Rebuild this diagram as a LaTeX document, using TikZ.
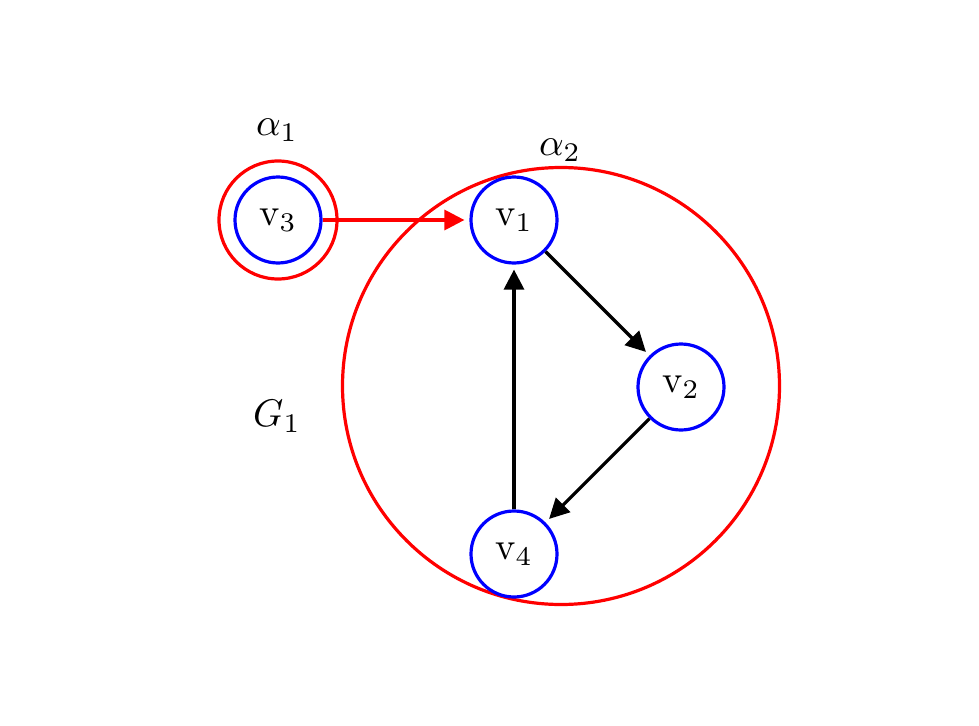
\documentclass[tikz,border=0pt]{standalone}
\usepackage{graphicx}
\usetikzlibrary{arrows.meta}
\newcommand{\bigtxt}[1]{\scalebox{3.85}{#1}}
\begin{document}
\begin{tikzpicture}[x=1pt,y=-1pt,
  vnode/.style={circle,draw=blue,line width=3.2pt,minimum size=86pt,inner sep=0pt},
  grp/.style={circle,draw=red,line width=3.2pt,inner sep=0pt},
  lbl/.style={inner sep=0pt},
  edge/.style={line width=3.2pt,shorten >=5pt,-{Triangle[length=20pt,width=20pt]}}]
\useasboundingbox (0,0) rectangle (979,725);
\node[grp,minimum size=118pt] (a1) at (278,220) {};
\node[grp,minimum size=437pt] (a2) at (561,386) {};
\node[vnode] (v3) at (278,220) {\bigtxt{$\mathrm{v}_3$}};
\node[vnode] (v1) at (514,220) {\bigtxt{$\mathrm{v}_1$}};
\node[vnode] (v2) at (681,387) {\bigtxt{$\mathrm{v}_2$}};
\node[vnode] (v4) at (514,554) {\bigtxt{$\mathrm{v}_4$}};
\node[lbl] (l1) at (277,130) {\bigtxt{$\alpha_1$}};
\node[lbl] (l2) at (560,150) {\bigtxt{$\alpha_2$}};
\node[lbl] (g1) at (277,416) {\bigtxt{$G_1$}};
\draw[edge,red] (v3) -- (v1);
\draw[edge] (v1) -- (v2);
\draw[edge] (v2) -- (v4);
\draw[edge] (v4) -- (v1);
\end{tikzpicture}
\end{document}
